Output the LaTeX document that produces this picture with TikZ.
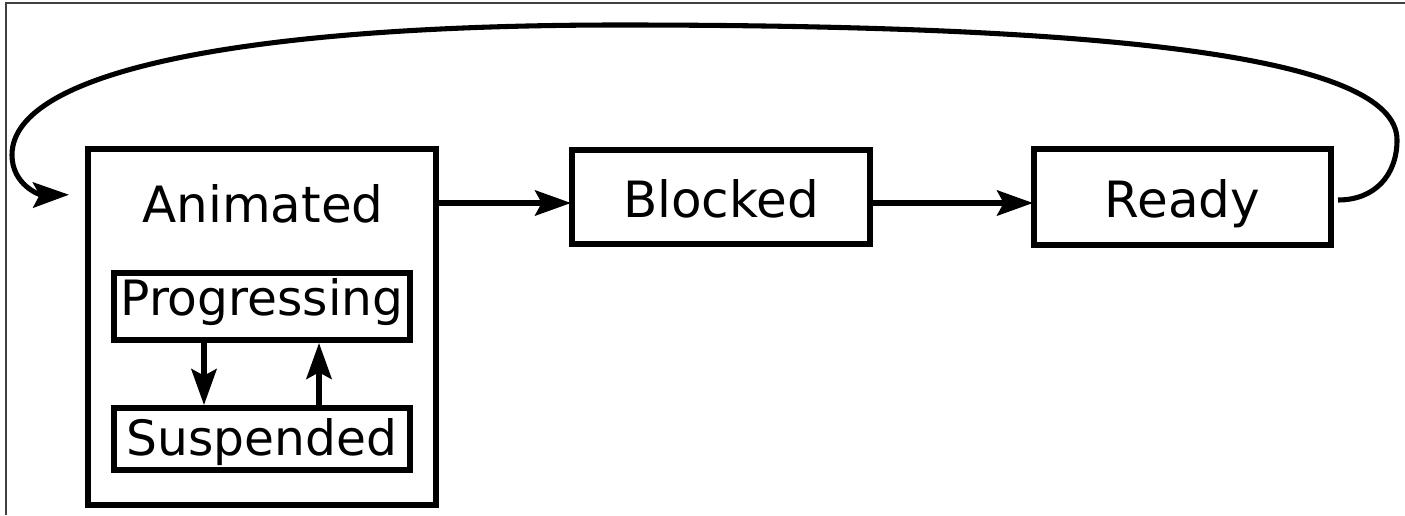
\documentclass[tikz,border=0pt]{standalone}
\usepackage{fontspec}
\newfontfamily\statefont{DejaVu Sans}
\usetikzlibrary{arrows.meta, calc}

\tikzset{
  statename/.style={font=\statefont\fontsize{37.5pt}{45pt}\selectfont},
  state/.style={statename, draw, line width=4.5pt, inner sep=0pt,
                text height=31pt, text depth=1pt},
  substate/.style={state, font=\statefont\fontsize{36.5pt}{44pt}\selectfont,
                   minimum width=222pt},
  link/.style={-{Stealth[length=27pt, width=19pt, inset=5pt]}, line width=3.8pt},
  frame/.style={draw=black!75, line width=0.9pt}
}

\begin{document}
\begin{tikzpicture}[x=0.75pt, y=0.75pt]
  \useasboundingbox (0, 0) rectangle (1405, 515);
  \draw[frame] (6, 0) -- (6, 512) -- (1405, 512);

  % states
  \node[state, minimum width=261pt, minimum height=267.4pt] (animated) at (262, 188) {};
  \node[statename, anchor=base, inner sep=0pt] (animatedname) at (263, 293) {Animated};
  \node[substate, minimum height=50.25pt, text height=27pt, text depth=14.25pt] (progressing) at (262, 208.5) {Progressing};
  \node[substate, minimum height=46.5pt, text height=30pt, text depth=6pt] (suspended) at (262, 76) {Suspended};
  \node[state, minimum width=223.5pt, minimum height=70.9pt] (blocked) at (721, 318) {Blocked};
  \node[state, minimum width=222.75pt, minimum height=71.6pt] (ready) at (1182.5, 318) {Ready};

  % inner transitions
  \draw[link] ([xshift=-43.5pt]progressing.south) -- ([xshift=-43.5pt]suspended.north);
  \draw[link] ([xshift=42.75pt]suspended.north) -- ([xshift=42.75pt]progressing.south);

  % outer transitions
  \draw[link] ($(animated.east |- blocked.west) + (-4, -6)$) -- ($(blocked.west) + (2, -6)$);
  \draw[link] ($(blocked.east) + (0, -6)$) -- ($(ready.west) + (2, -6)$);

  \coordinate (loopstart) at ($(ready.east) + (4, -3)$);
  \coordinate (loopend) at ($(animated.north west) + (-16, -49)$);
  \draw[link] (loopstart) .. controls (1375, 315) and (1397, 340) .. (1397, 375)
                          .. controls (1397, 460) and (1100, 490) .. (620, 490)
                          .. controls (250, 490) and (12, 445) .. (12, 360)
                          .. controls (12, 330) and (40, 320) .. (loopend);
\end{tikzpicture}
\end{document}
